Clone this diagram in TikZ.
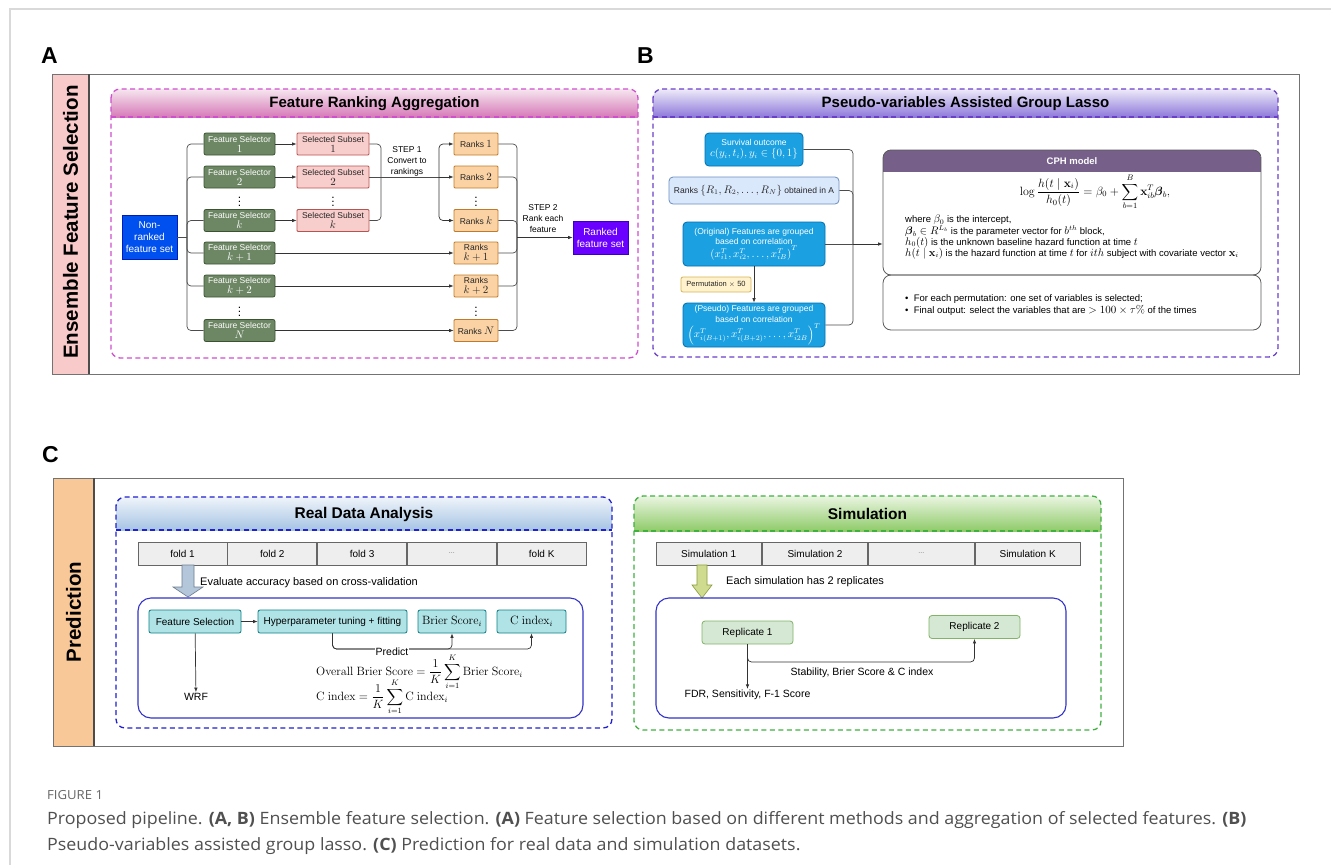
\documentclass[tikz,border=0pt]{standalone}
\usepackage{amsmath,amssymb}
\usepackage[no-math]{fontspec}
\setmainfont{Liberation Sans}
\newfontfamily\capfont[FakeStretch=1.05]{Open Sans}
\usetikzlibrary{positioning,arrows.meta}

\newcommand{\mth}[2][11]{{\fontsize{#1}{#1}\selectfont$#2$}}

\definecolor{fsgreen}{HTML}{6D8764}
\definecolor{fsgreenD}{HTML}{3A5431}
\definecolor{sspink}{HTML}{F8CECC}
\definecolor{sspinkD}{HTML}{B85450}
\definecolor{rkorange}{HTML}{FAD2A4}
\definecolor{rkorangeD}{HTML}{C07A2A}
\definecolor{nrblue}{HTML}{0050EF}
\definecolor{nrblueD}{HTML}{001DBC}
\definecolor{rfviolet}{HTML}{6A00FF}
\definecolor{rfvioletD}{HTML}{3700CC}
\definecolor{cyanbox}{HTML}{1BA1E2}
\definecolor{cyanboxD}{HTML}{006EAF}
\definecolor{paleblue}{HTML}{DAE8FC}
\definecolor{paleblueD}{HTML}{6C8EBF}
\definecolor{paleyel}{HTML}{FFF2CC}
\definecolor{paleyelD}{HTML}{D6B656}
\definecolor{cphpurple}{HTML}{76608A}
\definecolor{tealbox}{HTML}{B0E3E6}
\definecolor{tealboxD}{HTML}{0E8088}
\definecolor{repgreen}{HTML}{D5E8D4}
\definecolor{repgreenD}{HTML}{82B366}
\definecolor{foldgray}{HTML}{EEEEEE}
\definecolor{stripA}{HTML}{F9CACA}
\definecolor{stripC}{HTML}{F9C898}
\definecolor{dashA}{HTML}{CF4FCF}
\definecolor{dashB}{HTML}{6A40C8}
\definecolor{dashC}{HTML}{2020D0}
\definecolor{dashD}{HTML}{40B040}
\definecolor{hdAtop}{HTML}{F6E6EF}
\definecolor{hdAbot}{HTML}{D67AB8}
\definecolor{hdBtop}{HTML}{EEEAF9}
\definecolor{hdBbot}{HTML}{8E79DA}
\definecolor{hdCtop}{HTML}{EFF4FA}
\definecolor{hdCbot}{HTML}{A6C4E4}
\definecolor{hdDtop}{HTML}{EAF5E1}
\definecolor{hdDbot}{HTML}{8FCB69}
\definecolor{innerblue}{HTML}{3434C8}
\definecolor{arrblue}{HTML}{B3C6DA}
\definecolor{arrblueD}{HTML}{6E7D8C}
\definecolor{arrgreen}{HTML}{CFDB8E}
\definecolor{arrgreenD}{HTML}{8C9A3A}
\definecolor{capgray}{HTML}{505050}

\tikzset{
  arr/.style={-{Latex[length=4.5pt,width=3.5pt]}, line width=0.7pt, draw=black!80},
  conn/.style={line width=0.7pt, draw=black!70, rounded corners=4pt},
  dashbox/.style={line width=1.3pt, dash pattern=on 5pt off 3.5pt, rounded corners=9pt},
  dashline/.style={line width=1.3pt, dash pattern=on 5pt off 3.5pt},
  hdr/.style={font=\bfseries\fontsize{15}{15}\selectfont},
  sidetitle/.style={rotate=90, font=\bfseries\fontsize{20.5}{20.5}\selectfont},
  panelletter/.style={anchor=base west, inner sep=0pt, font=\bfseries\fontsize{23}{23}\selectfont},
  fsel/.style={draw=fsgreenD, fill=fsgreen, text=white, rounded corners=2pt,
    minimum width=71pt, minimum height=22pt, inner sep=0pt, align=center,
    line width=0.8pt, font=\fontsize{8.5}{10}\selectfont},
  ssub/.style={fsel, draw=sspinkD, fill=sspink, text=black!85, minimum width=72pt, rounded corners=1pt},
  rnk/.style={fsel, draw=rkorangeD, fill=rkorange, text=black!85, minimum width=44pt, rounded corners=1pt},
  endbox/.style={minimum width=55pt, inner sep=0pt, align=center, text=white,
    line width=0.8pt, font=\fontsize{10}{12}\selectfont},
  vdotsnode/.style={font=\fontsize{12}{12}\selectfont, inner sep=0pt},
  stepnote/.style={align=center, inner sep=0pt, font=\fontsize{8.5}{11}\selectfont},
  bbox/.style={draw=cyanboxD, fill=cyanbox, text=white, rounded corners=4pt, inner sep=0pt,
    align=center, line width=0.8pt, font=\fontsize{8.5}{10.5}\selectfont},
  cphbox/.style={draw=black!65, line width=0.8pt, rounded corners=8pt, minimum width=378pt, inner sep=0pt},
  cphtext/.style={anchor=base west, inner sep=0pt, font=\fontsize{9.5}{11}\selectfont},
  foldcell/.style={draw=black!60, fill=foldgray, minimum height=23pt, inner sep=0pt,
    line width=0.8pt, font=\fontsize{10}{12}\selectfont},
  tealnode/.style={draw=tealboxD, fill=tealbox, rounded corners=2pt, minimum height=23pt,
    inner sep=0pt, line width=0.8pt, font=\fontsize{10}{12}\selectfont},
  repnode/.style={draw=repgreenD, fill=repgreen, rounded corners=3pt, minimum width=91pt,
    minimum height=23pt, inner sep=0pt, line width=0.8pt, font=\fontsize{10}{12}\selectfont},
  notetext/.style={inner sep=1pt, font=\fontsize{10.5}{12}\selectfont},
  innerbox/.style={draw=innerblue, line width=1.1pt, rounded corners=13pt},
  capline/.style={anchor=base west, inner sep=0pt, text=capgray, font=\capfont\fontsize{17}{20}\selectfont}
}

\begin{document}
\begin{tikzpicture}[x=1pt, y=-1pt]
  \useasboundingbox (0,0) rectangle (1331,865);
  \fill[white] (0,0) rectangle (1331,865);
  \draw[black!15, line width=1.2pt] (10,865) -- (10,9) -- (1331,9);

  % painel A e B: moldura
  \node[panelletter] (letA) at (41,63) {A};
  \node[panelletter] (letB) at (637,63) {B};
  \fill[stripA] (52,74) rectangle (89,374);
  \draw[black!55, line width=0.9pt] (52,74) rectangle (1299,374);
  \draw[black!70, line width=1.5pt] (89,74) -- (89,374);
  \node[sidetitle] (efs) at (70.5,222) {Ensemble Feature Selection};

  % feature ranking aggregation
  \begin{scope}
    \clip[rounded corners=9pt] (111,89) rectangle (638,358);
    \shade[top color=hdAtop, bottom color=hdAbot] (111,89) rectangle (638,117);
  \end{scope}
  \draw[dashbox, dashA] (111,89) rectangle (638,358);
  \draw[dashline, dashA] (111,117) -- (638,117);
  \node[hdr] (hdA) at (374.5,103.5) {Feature Ranking Aggregation};

  \node[endbox, draw=nrblueD, fill=nrblue, minimum height=44pt] (nonr) at (149.5,237) {Non-\\ranked\\feature set};
  \node[fsel] (fs1) at (239.5,144) {Feature Selector\\\mth{1}};
  \node[fsel] (fs2) at (239.5,177) {Feature Selector\\\mth{2}};
  \node[fsel] (fsk) at (239.5,220.5) {Feature Selector\\\mth{k}};
  \node[fsel] (fsk1) at (239.5,253) {Feature Selector\\\mth{k+1}};
  \node[fsel] (fsk2) at (239.5,286) {Feature Selector\\\mth{k+2}};
  \node[fsel] (fsN) at (239.5,330.5) {Feature Selector\\\mth{N}};
  \node[ssub] (ss1) at (333,144) {Selected Subset\\\mth{1}};
  \node[ssub] (ss2) at (333,177) {Selected Subset\\\mth{2}};
  \node[ssub] (ssk) at (333,220.5) {Selected Subset\\\mth{k}};
  \node[rnk] (rk1) at (476,144) {Ranks \mth{1}};
  \node[rnk] (rk2) at (476,177) {Ranks \mth{2}};
  \node[rnk] (rkk) at (476,220.5) {Ranks \mth{k}};
  \node[rnk] (rkk1) at (476,253) {Ranks\\\mth{k+1}};
  \node[rnk] (rkk2) at (476,286) {Ranks\\\mth{k+2}};
  \node[rnk] (rkN) at (476,330.5) {Ranks \mth{N}};
  \node[endbox, draw=rfvioletD, fill=rfviolet, minimum height=33pt] (rfs) at (600.5,237.5) {Ranked\\feature set};
  \node[vdotsnode] (dfs1) at (239.5,199) {$\vdots$};
  \node[vdotsnode] (dss1) at (333,199) {$\vdots$};
  \node[vdotsnode] (drk1) at (476,199) {$\vdots$};
  \node[vdotsnode] (dfs2) at (239.5,308.5) {$\vdots$};
  \node[vdotsnode] (drk2) at (476,308.5) {$\vdots$};
  \node[stepnote] (step1) at (407,161) {STEP 1\\Convert to\\rankings};
  \node[stepnote] (step2) at (543,219) {STEP 2\\Rank each\\feature};

  \coordinate (busL) at (187,237);
  \draw[conn] (nonr.east) -- (busL);
  \draw[conn] (busL) |- (fs1.west);
  \draw[conn] (busL) |- (fs2.west);
  \draw[conn] (busL) |- (fsk.west);
  \draw[conn] (busL) |- (fsk1.west);
  \draw[conn] (busL) |- (fsk2.west);
  \draw[conn] (busL) |- (fsN.west);
  \draw[arr] (fs1) -- (ss1);
  \draw[arr] (fs2) -- (ss2);
  \draw[arr] (fsk) -- (ssk);
  \coordinate (st1a) at (381,177);
  \coordinate (st1b) at (439,177);
  \draw[conn] (ss1.east) -| (st1a);
  \draw[conn] (ssk.east) -| (st1a);
  \draw[conn] (ss2.east) -- (st1b);
  \draw[arr, rounded corners=4pt] (st1b) |- (rk1.west);
  \draw[arr] (st1b) -- (rk2.west);
  \draw[arr, rounded corners=4pt] (st1b) |- (rkk.west);
  \draw[arr] (fsk1) -- (rkk1);
  \draw[arr] (fsk2) -- (rkk2);
  \draw[arr] (fsN) -- (rkN);
  \coordinate (st2) at (517,237.5);
  \draw[conn] (rk1.east) -| (st2);
  \draw[conn] (rk2.east) -| (st2);
  \draw[conn] (rkk.east) -| (st2);
  \draw[conn] (rkk1.east) -| (st2);
  \draw[conn] (rkk2.east) -| (st2);
  \draw[conn] (rkN.east) -| (st2);
  \draw[arr] (st2) -- (rfs.west);

  % pseudo-variables assisted group lasso
  \begin{scope}
    \clip[rounded corners=9pt] (653,89) rectangle (1278,357);
    \shade[top color=hdBtop, bottom color=hdBbot] (653,89) rectangle (1278,117);
  \end{scope}
  \draw[dashbox, dashB] (653,89) rectangle (1278,357);
  \draw[dashline, dashB] (653,117) -- (1278,117);
  \node[hdr] (hdB) at (965.5,103.5) {Pseudo-variables Assisted Group Lasso};

  \node[bbox, minimum width=98pt, minimum height=33pt] (surv) at (754,149.5) {Survival outcome\\\mth[10.5]{c(y_i,t_i), y_i\in\{0,1\}}};
  \node[bbox, draw=paleblueD, fill=paleblue, text=black!85, minimum width=170pt, minimum height=27pt] (rkB) at (754,190.5) {Ranks \mth[10.5]{\{R_1,R_2,\ldots,R_N\}} obtained in A};
  \node[bbox, minimum width=142pt, minimum height=44pt] (orig) at (754,244) {(Original) Features are grouped\\based on correlation\\\mth[10.5]{\left(x_{i1}^T,x_{i2}^T,\ldots,x_{iB}^T\right)^T}};
  \node[bbox, draw=paleyelD, fill=paleyel, text=black!85, minimum width=70pt, minimum height=15pt, rounded corners=2pt, font=\fontsize{7.5}{9}\selectfont] (perm) at (716,284.5) {Permutation $\times$ 50};
  \node[bbox, minimum width=142pt, minimum height=44pt] (pseudo) at (754,325) {(Pseudo) Features are grouped\\based on correlation\\\mth[10.5]{\left(x_{i(B+1)}^T,x_{i(B+2)}^T,\ldots,x_{i2B}^T\right)^T}};
  \draw[arr] (orig) -- (pseudo);
  \coordinate (busB) at (853,244);
  \draw[conn] (surv.east) -| (busB);
  \draw[conn] (rkB.east) -| (busB);
  \draw[conn] (orig.east) -- (busB);
  \draw[conn] (pseudo.east) -| (busB);

  % cph model
  \begin{scope}
    \clip[rounded corners=8pt] (883,150) rectangle (1261,275);
    \fill[cphpurple] (883,150) rectangle (1261,172);
  \end{scope}
  \node[cphbox, minimum height=125pt] (cph) at (1072,212.5) {};
  \node[cphbox, minimum height=55pt] (cphout) at (1072,302.5) {};
  \draw[arr] (busB) -- (busB -| cph.west);
  \node[text=white, font=\bfseries\fontsize{9.5}{11}\selectfont] (cphttl) at (1072,161) {CPH model};
  \node[inner sep=0pt, font=\fontsize{11.5}{13}\selectfont] (cphform) at (1095,192) {$\displaystyle \log\frac{h(t\mid\mathbf{x}_i)}{h_0(t)} = \beta_0 + \sum_{b=1}^{B}\mathbf{x}_{ib}^{T}\boldsymbol{\beta}_b,$};
  \node[cphtext] (cl1) at (905,222.5) {where \mth[10.5]{\beta_0} is the intercept,};
  \node[cphtext] (cl2) at (905,234) {\mth[10.5]{\boldsymbol{\beta}_b\in R^{L_b}} is the parameter vector for \mth[10.5]{b^{th}} block,};
  \node[cphtext] (cl3) at (905,245) {\mth[10.5]{h_0(t)} is the unknown baseline hazard function at time \mth[10.5]{t}};
  \node[cphtext] (cl4) at (905,256) {\mth[10.5]{h(t\mid\mathbf{x}_i)} is the hazard function at time \mth[10.5]{t} for \mth[10.5]{ith} subject with covariate vector \mth[10.5]{\mathbf{x}_i}};
  \node[cphtext] (bl1) at (905,301) {\textbullet\ \ For each permutation: one set of variables is selected;};
  \node[cphtext] (bl2) at (905,313) {\textbullet\ \ Final output: select the variables that are \mth[10.5]{>100\times\tau\%} of the times};

  % painel C: moldura
  \node[panelletter] (letC) at (42,462) {C};
  \fill[stripC] (53,478) rectangle (94,746);
  \draw[black!55, line width=0.9pt] (53,478) rectangle (1123,746);
  \draw[black!70, line width=1.5pt] (94,478) -- (94,746);
  \node[sidetitle] (pred) at (73.5,612) {Prediction};

  % real data analysis
  \begin{scope}
    \clip[rounded corners=9pt] (116,497) rectangle (612,728);
    \shade[top color=hdCtop, bottom color=hdCbot] (116,497) rectangle (612,530);
  \end{scope}
  \draw[dashbox, dashC] (116,497) rectangle (612,728);
  \draw[dashline, dashC] (116,530) -- (612,530);
  \node[hdr, font=\bfseries\fontsize{15.5}{15.5}\selectfont] (hdC) at (364,514) {Real Data Analysis};

  \node[foldcell, minimum width=89pt] (fo1) at (182.5,553.5) {fold 1};
  \node[foldcell, minimum width=89pt, right=0pt of fo1] (fo2) {fold 2};
  \node[foldcell, minimum width=89pt, right=0pt of fo2] (fo3) {fold 3};
  \node[foldcell, minimum width=89pt, right=0pt of fo3, text=black!55, font=\fontsize{7}{8}\selectfont] (fo4) {...};
  \node[foldcell, minimum width=89pt, right=0pt of fo4] (fo5) {fold K};
  \filldraw[fill=arrblue, draw=arrblueD, line width=0.6pt] (182,565) -- (194,565) -- (194,587) -- (203,587) -- (188,597) -- (173,587) -- (182,587) -- cycle;
  \node[notetext, anchor=west, font=\fontsize{11}{13}\selectfont] (evalt) at (199,583) {Evaluate accuracy based on cross-validation};

  \draw[innerbox] (138,598) rectangle (583,718);
  \node[tealnode, minimum width=92pt] (featsel) at (195,621.5) {Feature Selection};
  \node[tealnode, minimum width=149pt] (hyper) at (332.5,621.5) {Hyperparameter tuning + fitting};
  \node[tealnode, minimum width=68pt] (brier) at (452,621.5) {\mth[11.5]{\mathrm{Brier\ Score}_i}};
  \node[tealnode, minimum width=69pt] (cidx) at (531.5,621.5) {\mth[11.5]{\mathrm{C\ index}_i}};
  \draw[arr] (featsel) -- (hyper);
  \coordinate (predln) at (333,649);
  \draw[arr, rounded corners=4pt] (hyper.south) |- (predln -| cidx.south) -- (cidx.south);
  \draw[arr, rounded corners=4pt] (hyper.south) |- (predln -| brier.south) -- (brier.south);
  \node[fill=white, inner sep=1pt, font=\fontsize{10.5}{12}\selectfont] (predt) at (392,651.5) {Predict};
  \node[notetext] (wrf) at (196,697) {WRF};
  \draw[arr] (featsel) -- (wrf);
  \node[anchor=west, inner sep=0pt, font=\fontsize{11.5}{13}\selectfont] (ovb) at (316,672) {$\mathrm{Overall\ Brier\ Score}=\dfrac{1}{K}\displaystyle\sum_{i=1}^{K}\mathrm{Brier\ Score}_i$};
  \node[anchor=west, inner sep=0pt, font=\fontsize{11.5}{13}\selectfont] (ovc) at (316,697) {$\mathrm{C\ index}=\dfrac{1}{K}\displaystyle\sum_{i=1}^{K}\mathrm{C\ index}_i$};

  % simulation
  \begin{scope}
    \clip[rounded corners=9pt] (634,496) rectangle (1101,730);
    \shade[top color=hdDtop, bottom color=hdDbot] (634,496) rectangle (1101,531);
  \end{scope}
  \draw[dashbox, dashD] (634,496) rectangle (1101,730);
  \draw[dashline, dashD] (634,531) -- (1101,531);
  \node[hdr, font=\bfseries\fontsize{15.5}{15.5}\selectfont] (hdD) at (867.5,514) {Simulation};

  \node[foldcell, minimum width=105.5pt] (si1) at (708.75,553.5) {Simulation 1};
  \node[foldcell, minimum width=105.5pt, right=0pt of si1] (si2) {Simulation 2};
  \node[foldcell, minimum width=105.5pt, right=0pt of si2, text=black!55, font=\fontsize{7}{8}\selectfont] (si3) {...};
  \node[foldcell, minimum width=105.5pt, right=0pt of si3] (si4) {Simulation K};
  \filldraw[fill=arrgreen, draw=arrgreenD, line width=0.6pt] (697,565) -- (707,565) -- (707,585) -- (712,585) -- (702,598) -- (692,585) -- (697,585) -- cycle;
  \node[notetext, anchor=west, font=\fontsize{11}{13}\selectfont] (eacht) at (725,582) {Each simulation has 2 replicates};

  \draw[innerbox] (656,598) rectangle (1066,718);
  \node[repnode] (rep1) at (747.5,632.5) {Replicate 1};
  \node[repnode] (rep2) at (974.5,627) {Replicate 2};
  \coordinate (stabln) at (748,662);
  \draw[arr, rounded corners=4pt] (rep1.south) |- (stabln -| rep2.south) -- (rep2.south);
  \node[notetext] (stabt) at (862,673) {Stability, Brier Score \& C index};
  \node[notetext] (fdrt) at (747.5,695) {FDR, Sensitivity, F-1 Score};
  \draw[arr] (rep1) -- (fdrt);

  % legenda
  \node[anchor=base west, inner sep=0pt, text=black!60, font=\capfont\fontsize{12.5}{14}\selectfont] (figno) at (47,799) {FIGURE 1};
  \node[capline] (cap1) at (47,824) {Proposed pipeline. \textbf{(A, B)} Ensemble feature selection. \textbf{(A)} Feature selection based on different methods and aggregation of selected features. \textbf{(B)}};
  \node[capline] (cap2) at (47,850) {Pseudo-variables assisted group lasso. \textbf{(C)} Prediction for real data and simulation datasets.};
\end{tikzpicture}
\end{document}
